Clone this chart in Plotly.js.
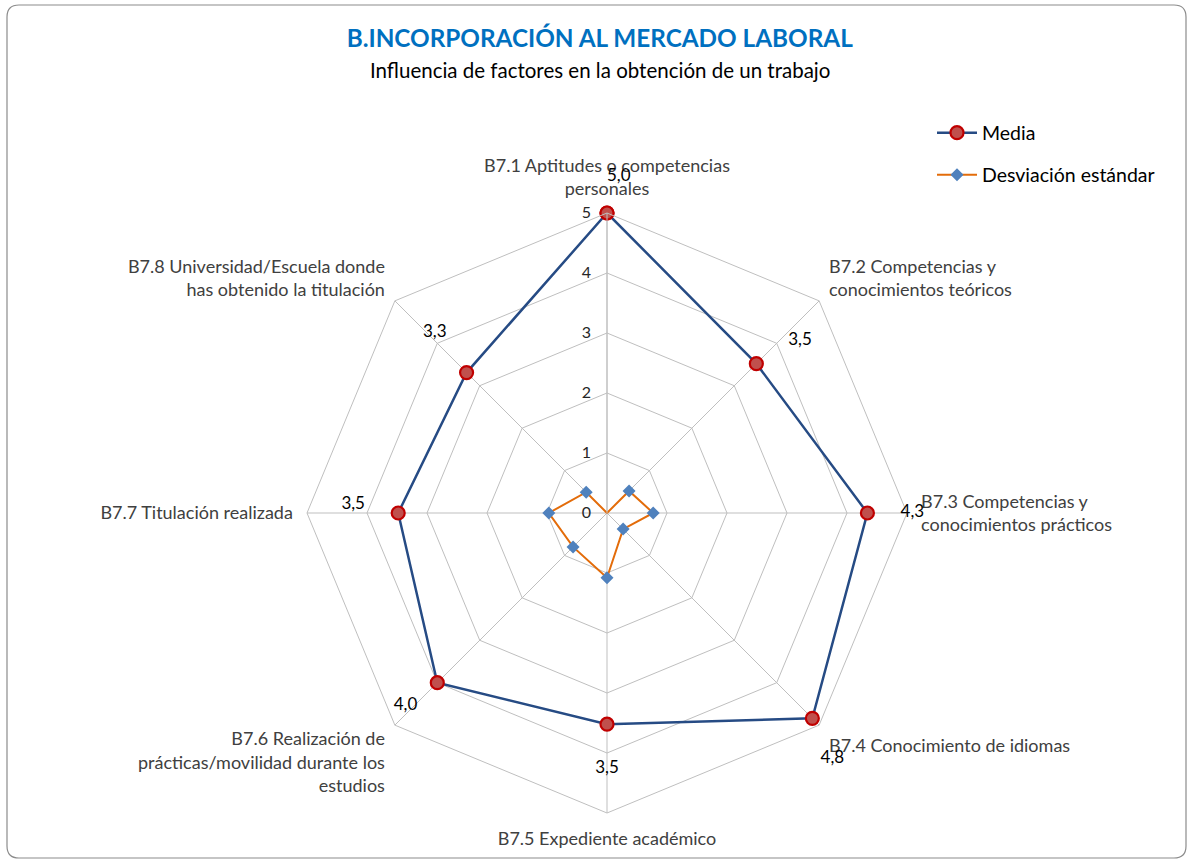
<!DOCTYPE html>
<html>
<head>
<meta charset="utf-8">
<script src="https://cdn.plot.ly/plotly-3.0.1.min.js"></script>
<style>
  html, body { margin: 0; padding: 0; background: #ffffff; }
  #chart { width: 1190px; height: 863px; }
</style>
</head>
<body>
<div id="chart"></div>
<script>
// ---- data ----
const categories = [
  "B7.1 Aptitudes o competencias<br>personales",
  "B7.2 Competencias y<br>conocimientos teóricos",
  "B7.3 Competencias y<br>conocimientos prácticos",
  "B7.4 Conocimiento de idiomas",
  "B7.5 Expediente académico",
  "B7.6 Realización de<br>prácticas/movilidad durante los<br>estudios",
  "B7.7 Titulación realizada",
  "B7.8 Universidad/Escuela donde<br>has obtenido la titulación"
];
const media = [5.0, 3.52, 4.34, 4.84, 3.52, 4.0, 3.48, 3.31];
const desviacion = [0.0, 0.52, 0.77, 0.38, 1.08, 0.80, 0.97, 0.49];
const radialTicks = [0, 1, 2, 3, 4, 5];
const seriesNames = ["Media", "Desviación estándar"];
const titleText = "B.INCORPORACIÓN AL MERCADO LABORAL";
const subtitleText = "Influencia de factores en la obtención de un trabajo";

// ---- helpers ----
const closeLoop = a => a.concat([a[0]]);
const fmt = v => v.toFixed(1).replace('.', ',');
const LABEL_PAD = 0.75;
const FONT = "Lato, 'Open Sans', sans-serif";
const labelPositions = ['bottom right', 'bottom right', 'middle center', 'bottom left',
                        'middle center', 'top center', 'top center', 'top center'];

const W = 1190, H = 863;
const CX = 607, CY = 513, R = 300, RMAX = 5;
const R2MAX = 5.8, R2 = R * R2MAX / RMAX;

const traces = [
  {
    type: 'scatterpolar',
    name: seriesNames[0],
    r: closeLoop(media),
    theta: closeLoop(categories),
    mode: 'lines+markers',
    line: { color: '#264B84', width: 2.5 },
    marker: { symbol: 'circle', size: 13, color: '#C0504D', line: { color: '#C00000', width: 2.2 } },
    cliponaxis: false,
    legend: 'legend'
  },
  {
    type: 'scatterpolar',
    name: seriesNames[1],
    r: closeLoop(desviacion),
    theta: closeLoop(categories),
    mode: 'lines+markers',
    line: { color: '#E36C0A', width: 2 },
    marker: { symbol: 'diamond', size: 10, color: '#4F81BD' },
    cliponaxis: false,
    legend: 'legend2'
  },
  {
    type: 'scatterpolar',
    subplot: 'polar2',
    r: media.map(v => v + LABEL_PAD),
    theta: categories,
    mode: 'text',
    text: media.map(fmt),
    textposition: labelPositions,
    textfont: { family: FONT, size: 17, color: '#000000' },
    showlegend: false,
    hoverinfo: 'skip',
    cliponaxis: false
  }
];

const rx = 12 / W, ry = 12 / H;
const x0 = 7 / W, x1 = 1186 / W, y0 = 1 - 858 / H, y1 = 1 - 5 / H;
const borderPath =
  `M ${x0 + rx},${y1} L ${x1 - rx},${y1} Q ${x1},${y1} ${x1},${y1 - ry} ` +
  `L ${x1},${y0 + ry} Q ${x1},${y0} ${x1 - rx},${y0} ` +
  `L ${x0 + rx},${y0} Q ${x0},${y0} ${x0},${y0 + ry} ` +
  `L ${x0},${y1 - ry} Q ${x0},${y1} ${x0 + rx},${y1} Z`;

const legendFont = { family: FONT, size: 19.5, color: '#000000' };

const layout = {
  width: W,
  height: H,
  margin: { l: 0, r: 0, t: 0, b: 0 },
  paper_bgcolor: '#ffffff',
  font: { family: FONT, color: '#404040' },
  title: {
    text: '<b>' + titleText + '</b>',
    font: { family: FONT, size: 24.3, color: '#0070C0' },
    x: 0.504, xanchor: 'center',
    y: 1 - 38 / H, yanchor: 'middle'
  },
  annotations: [{
    text: subtitleText,
    xref: 'paper', yref: 'paper',
    x: 0.504, y: 1 - 70 / H, xanchor: 'center', yanchor: 'middle',
    showarrow: false,
    font: { family: FONT, size: 20.5, color: '#000000' }
  }],
  polar: {
    domain: { x: [(CX - R) / W, (CX + R) / W], y: [(H - CY - R) / H, (H - CY + R) / H] },
    bgcolor: '#ffffff',
    gridshape: 'linear',
    radialaxis: {
      range: [0, RMAX],
      tickvals: radialTicks,
      angle: 90,
      tickangle: 90,
      side: 'counterclockwise',
      showline: true,
      linecolor: '#bfbfbf',
      gridcolor: '#bfbfbf',
      gridwidth: 1,
      ticks: 'outside',
      ticklen: 10,
      tickcolor: 'rgba(0,0,0,0)',
      tickfont: { family: FONT, size: 16, color: '#262626' }
    },
    angularaxis: {
      direction: 'clockwise',
      rotation: 90,
      categoryorder: 'array',
      categoryarray: categories,
      showline: true,
      linecolor: '#bfbfbf',
      gridcolor: '#bfbfbf',
      ticks: 'outside',
      ticklen: 10,
      tickcolor: 'rgba(0,0,0,0)',
      tickfont: { family: FONT, size: 18, color: '#404040' }
    }
  },
  polar2: {
    domain: { x: [(CX - R2) / W, (CX + R2) / W], y: [(H - CY - R2) / H, (H - CY + R2) / H] },
    bgcolor: 'rgba(0,0,0,0)',
    radialaxis: { range: [0, R2MAX], visible: false },
    angularaxis: {
      visible: false,
      direction: 'clockwise',
      rotation: 90,
      categoryorder: 'array',
      categoryarray: categories
    }
  },
  showlegend: true,
  legend: {
    x: 932 / W, y: 1 - 133 / H, xanchor: 'left', yanchor: 'middle',
    itemwidth: 40,
    font: legendFont,
    bgcolor: 'rgba(0,0,0,0)'
  },
  legend2: {
    x: 932 / W, y: 1 - 175 / H, xanchor: 'left', yanchor: 'middle',
    itemwidth: 40,
    font: legendFont,
    bgcolor: 'rgba(0,0,0,0)'
  },
  shapes: [{
    type: 'path', xref: 'paper', yref: 'paper',
    path: borderPath,
    line: { color: '#8c8c8c', width: 1.2 },
    fillcolor: 'rgba(0,0,0,0)'
  }]
};

Plotly.newPlot('chart', traces, layout, { displayModeBar: false, staticPlot: true });
</script>
</body>
</html>
